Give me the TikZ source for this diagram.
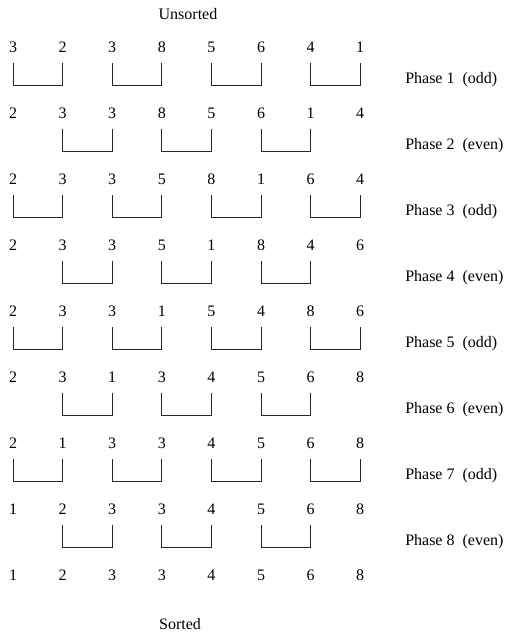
\documentclass[tikz,border=0pt]{standalone}
\usepackage{fontspec}
\setmainfont{Liberation Serif}
\begin{document}
\begin{tikzpicture}[x=0.75pt,y=-0.75pt,
  num/.style={inner sep=0pt,font=\fontsize{12}{14}\selectfont},
  lbl/.style={anchor=west,inner sep=0pt,font=\fontsize{12}{14}\selectfont},
  pair/.style={line width=0.7pt,black!85}]
\useasboundingbox (0,0) rectangle (511,637);

\node[num] (unsorted) at (188,14) {Unsorted};

% one row of values per phase
\foreach \vals [count=\r] in {{3,2,3,8,5,6,4,1},{2,3,3,8,5,6,1,4},{2,3,3,5,8,1,6,4},
    {2,3,3,5,1,8,4,6},{2,3,3,1,5,4,8,6},{2,3,1,3,4,5,6,8},{2,1,3,3,4,5,6,8},
    {1,2,3,3,4,5,6,8},{1,2,3,3,4,5,6,8}}
  \foreach \v [count=\c] in \vals
    \node[num] (n\r-\c) at ({13+49.6*(\c-1)},{47+66*(\r-1)}) {\v};

% compare-exchange brackets
\foreach \r in {1,3,5,7}
  \foreach \a/\b in {1/2,3/4,5/6,7/8}
    \draw[pair] ([yshift=-12pt]n\r-\a.center) -- ([yshift=-28.5pt]n\r-\a.center)
      -- ([yshift=-28.5pt]n\r-\b.center) -- ([yshift=-12pt]n\r-\b.center);
\foreach \r in {2,4,6,8}
  \foreach \a/\b in {2/3,4/5,6/7}
    \draw[pair] ([yshift=-12pt]n\r-\a.center) -- ([yshift=-28.5pt]n\r-\a.center)
      -- ([yshift=-28.5pt]n\r-\b.center) -- ([yshift=-12pt]n\r-\b.center);

\foreach \r/\kind in {1/odd,2/even,3/odd,4/even,5/odd,6/even,7/odd,8/even}
  \node[lbl] (phase\r) at (405,{80+66*(\r-1)}) {Phase \r~~(\kind)};

\node[num] (sorted) at (180,624) {Sorted};
\end{tikzpicture}
\end{document}
